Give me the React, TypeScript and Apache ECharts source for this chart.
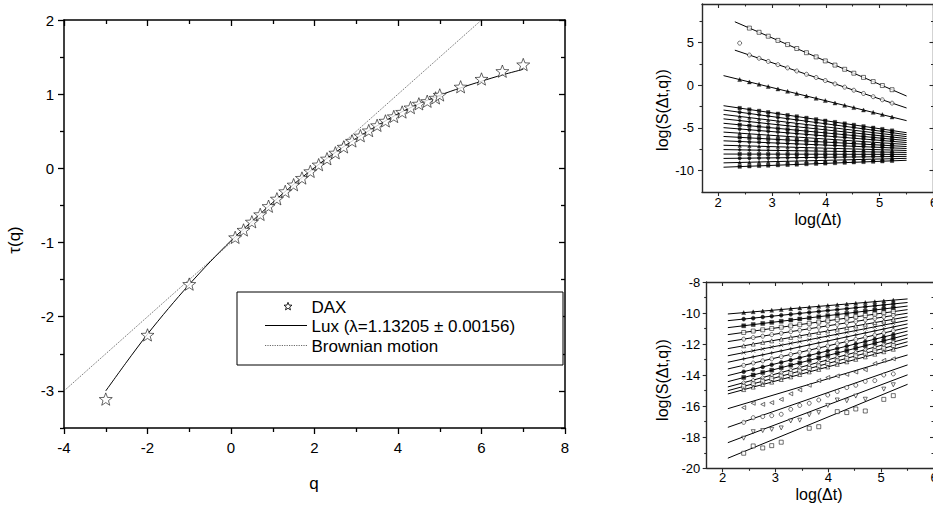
import React, { useEffect, useRef } from "react";
import * as echarts from "echarts";

// ---------------- Main panel data ----------------
const daxQ = [-3, -2, -1, 0.1, 0.3, 0.5, 0.7, 0.9, 1.1, 1.3, 1.5, 1.7, 1.9, 2.1, 2.3, 2.5, 2.7, 2.9, 3.1, 3.3, 3.5, 3.7, 3.9, 4.1, 4.3, 4.5, 4.7, 4.9, 5.0, 5.5, 6.0, 6.5, 7.0];
const daxTau = [-3.11, -2.245, -1.56, -0.93, -0.83, -0.72, -0.62, -0.51, -0.41, -0.31, -0.22, -0.13, -0.04, 0.05, 0.13, 0.21, 0.29, 0.37, 0.44, 0.51, 0.58, 0.64, 0.70, 0.76, 0.82, 0.87, 0.905, 0.95, 0.99, 1.10, 1.205, 1.31, 1.40];

const luxQ = [-3, -2.5, -2, -1.5, -1, -0.5, 0, 0.5, 1, 1.5, 2, 2.5, 3, 3.5, 4, 4.5, 5, 5.5, 6, 6.5, 7];
const luxTau = [-3.0, -2.61, -2.235, -1.89, -1.565, -1.26, -0.975, -0.715, -0.46, -0.215, 0.01, 0.215, 0.405, 0.575, 0.735, 0.87, 0.985, 1.085, 1.175, 1.26, 1.335];

const brownQ = [-4, 6];
const brownTau = [-3, 2];

const mainXMajors = [-4, -2, 0, 2, 4, 6, 8];
const mainXMinors = [-3, -1, 1, 3, 5, 7];
const mainYMajors = [-3, -2, -1, 0, 1, 2];
const mainYMinors = [-3.5, -2.5, -1.5, -0.5, 0.5, 1.5];

// ---------------- Inset data ----------------
const insetLogDt = [2.40, 2.58, 2.76, 2.93, 3.11, 3.29, 3.46, 3.64, 3.82, 3.99, 4.17, 4.35, 4.52, 4.70, 4.88, 5.05, 5.23];
const fitRightX = 5.5;
const insetXMajors = [2, 3, 4, 5, 6];
const insetXMinors = [2.5, 3.5, 4.5, 5.5];
const topYMajors = [-10, -5, 0, 5];
const topYMinors = [-7.5, -2.5, 2.5, 7.5];
const bottomYMajors = [-20, -18, -16, -14, -12, -10, -8];
const bottomYMinors = [-19, -17, -15, -13, -11, -9];

// top inset: three separated lines
const topUpperFitLeftX = [2.31, 2.31, 2.10];
const topUpperFitLeftY = [7.42, 4.10, 1.12];
const topUpperFitRightY = [-1.27, -2.67, -4.15];
const topUpperPoints = [
  [null, 6.68, 6.19, 5.73, 5.24, 4.75, 4.29, 3.80, 3.31, 2.84, 2.35, 1.86, 1.40, 0.91, 0.42, -0.04, -0.53],
  [4.92, 3.53, 3.15, 2.78, 2.40, 2.02, 1.66, 1.28, 0.90, 0.54, 0.15, -0.23, -0.59, -0.97, -1.35, -1.71, -2.10],
  [0.66, 0.38, 0.10, -0.16, -0.44, -0.72, -0.98, -1.26, -1.54, -1.80, -2.08, -2.36, -2.62, -2.90, -3.18, -3.44, -3.72],
];

// top inset: dense bundle
const topBundleFitLeftX = 2.1;
const topBundleFitLeftY = [-2.40, -2.91, -3.43, -3.94, -4.46, -4.97, -5.49, -6.00, -6.51, -7.03, -7.54, -8.06, -8.57, -9.09, -9.60];
const topBundleFitRightY = [-5.56, -5.79, -6.02, -6.25, -6.48, -6.71, -6.94, -7.18, -7.41, -7.64, -7.87, -8.10, -8.33, -8.56, -8.79];
const topBundlePoints = [
  [-2.68, -2.85, -3.01, -3.17, -3.34, -3.51, -3.66, -3.83, -4.00, -4.16, -4.32, -4.49, -4.65, -4.82, -4.98, -5.14, -5.31],
  [-3.16, -3.32, -3.47, -3.61, -3.77, -3.92, -4.06, -4.21, -4.37, -4.51, -4.66, -4.82, -4.96, -5.11, -5.27, -5.41, -5.56],
  [-3.66, -3.80, -3.93, -4.06, -4.20, -4.34, -4.47, -4.60, -4.74, -4.87, -5.01, -5.14, -5.27, -5.41, -5.55, -5.68, -5.81],
  [-4.14, -4.27, -4.39, -4.50, -4.63, -4.75, -4.86, -4.99, -5.11, -5.22, -5.35, -5.47, -5.58, -5.71, -5.83, -5.94, -6.07],
  [-4.64, -4.75, -4.85, -4.95, -5.06, -5.17, -5.27, -5.38, -5.48, -5.58, -5.69, -5.80, -5.90, -6.01, -6.11, -6.21, -6.32],
  [-5.12, -5.22, -5.31, -5.40, -5.49, -5.58, -5.67, -5.76, -5.85, -5.94, -6.03, -6.12, -6.21, -6.30, -6.39, -6.48, -6.57],
  [-5.62, -5.70, -5.77, -5.84, -5.92, -6.00, -6.07, -6.15, -6.22, -6.30, -6.37, -6.45, -6.52, -6.60, -6.68, -6.75, -6.83],
  [-6.10, -6.17, -6.23, -6.29, -6.35, -6.41, -6.47, -6.53, -6.60, -6.66, -6.72, -6.78, -6.84, -6.90, -6.97, -7.02, -7.09],
  [-6.59, -6.64, -6.69, -6.73, -6.78, -6.83, -6.87, -6.92, -6.97, -7.01, -7.06, -7.11, -7.15, -7.20, -7.25, -7.29, -7.34],
  [-7.08, -7.12, -7.15, -7.18, -7.21, -7.24, -7.27, -7.31, -7.34, -7.37, -7.40, -7.43, -7.46, -7.50, -7.53, -7.56, -7.59],
  [-7.57, -7.59, -7.60, -7.62, -7.64, -7.66, -7.67, -7.69, -7.71, -7.72, -7.74, -7.76, -7.78, -7.79, -7.81, -7.83, -7.84],
  [-8.06, -8.07, -8.07, -8.07, -8.07, -8.07, -8.08, -8.08, -8.08, -8.08, -8.08, -8.09, -8.09, -8.09, -8.09, -8.09, -8.10],
  [-8.55, -8.54, -8.52, -8.51, -8.50, -8.49, -8.47, -8.46, -8.45, -8.44, -8.42, -8.41, -8.40, -8.39, -8.37, -8.36, -8.35],
  [-9.04, -9.02, -8.99, -8.96, -8.93, -8.90, -8.88, -8.85, -8.82, -8.80, -8.77, -8.74, -8.71, -8.69, -8.66, -8.63, -8.60],
  [-9.53, -9.49, -9.44, -9.40, -9.36, -9.32, -9.28, -9.23, -9.19, -9.15, -9.11, -9.06, -9.02, -8.98, -8.94, -8.90, -8.85],
];

// bottom inset: upper bundle
const bottomFitLeftX = 2.1;
const bottomUpperFitLeftY = [-10.06, -10.49, -10.94, -11.39, -11.84, -12.29, -12.75, -13.17, -13.60, -14.03, -14.42, -14.76, -15.00, -15.21];
const bottomUpperFitRightY = [-9.09, -9.32, -9.55, -9.78, -10.01, -10.24, -10.47, -10.70, -10.93, -11.16, -11.39, -11.62, -11.85, -12.08];
const bottomUpperPoints = [
  [-9.97, -9.92, -9.87, -9.82, -9.77, -9.72, -9.67, -9.62, -9.57, -9.52, -9.47, -9.42, -9.37, -9.32, -9.27, -9.22, -9.17],
  [-10.39, -10.33, -10.26, -10.20, -10.14, -10.08, -10.02, -9.96, -9.90, -9.84, -9.78, -9.72, -9.66, -9.60, -9.53, -9.48, -9.41],
  [-10.82, -10.74, -10.67, -10.60, -10.53, -10.45, -10.38, -10.31, -10.24, -10.17, -10.09, -10.02, -9.95, -9.88, -9.80, -9.73, -9.66],
  [-11.25, -11.16, -11.08, -11.00, -10.91, -10.83, -10.75, -10.66, -10.58, -10.50, -10.41, -10.32, -10.24, -10.16, -10.07, -9.99, -9.91],
  [-11.68, -11.58, -11.49, -11.39, -11.30, -11.20, -11.11, -11.01, -10.91, -10.82, -10.73, -10.63, -10.54, -10.44, -10.34, -10.25, -10.16],
  [-12.11, -12.00, -11.89, -11.79, -11.68, -11.57, -11.47, -11.36, -11.25, -11.15, -11.04, -10.93, -10.83, -10.72, -10.61, -10.51, -10.40],
  [-12.55, -12.43, -12.31, -12.19, -12.07, -11.95, -11.84, -11.72, -11.60, -11.48, -11.36, -11.24, -11.13, -11.01, -10.89, -10.77, -10.65],
  [-12.95, -12.82, -12.69, -12.57, -12.44, -12.31, -12.18, -12.05, -11.92, -11.80, -11.67, -11.54, -11.41, -11.28, -11.15, -11.03, -10.90],
  [-13.37, -13.22, -13.08, -12.95, -12.81, -12.67, -12.53, -12.39, -12.25, -12.12, -11.97, -11.83, -11.70, -11.56, -11.42, -11.28, -11.14],
  [-13.78, -13.63, -13.47, -13.33, -13.18, -13.03, -12.88, -12.73, -12.58, -12.44, -12.28, -12.13, -11.99, -11.84, -11.68, -11.54, -11.39],
  [-14.15, -13.99, -13.83, -13.68, -13.52, -13.36, -13.21, -13.05, -12.89, -12.74, -12.58, -12.42, -12.26, -12.10, -11.94, -11.79, -11.63],
  [-14.48, -14.32, -14.15, -13.99, -13.83, -13.66, -13.50, -13.34, -13.17, -13.01, -12.85, -12.68, -12.53, -12.36, -12.19, -12.04, -11.87],
  [-14.72, -14.56, -14.39, -14.23, -14.06, -13.90, -13.74, -13.57, -13.41, -13.25, -13.08, -12.92, -12.76, -12.59, -12.43, -12.27, -12.10],
  [-14.93, -14.77, -14.60, -14.45, -14.28, -14.11, -13.96, -13.79, -13.63, -13.47, -13.30, -13.14, -12.98, -12.82, -12.65, -12.49, -12.33],
];

// bottom inset: four lower (noisier) lines
const bottomLowerFitLeftY = [-16.16, -17.36, -18.35, -19.35];
const bottomLowerFitRightY = [-12.70, -13.34, -13.98, -14.59];
const bottomLowerPoints = [
  [-16.09, -15.81, -15.88, -15.77, -15.56, -15.20, -14.95, -14.65, -14.35, -14.15, -14.05, -13.95, -13.80, -13.65, -13.25, -13.05, -12.95],
  [-17.04, -16.74, -16.67, -16.61, -16.52, -16.20, -15.95, -15.81, -15.60, -15.28, -15.05, -14.80, -14.65, -14.40, -14.35, -13.99, -13.92],
  [-18.06, -17.64, -17.57, -17.49, -17.40, -16.95, -16.90, -16.55, -16.40, -15.95, -15.60, -15.65, -15.35, -15.55, null, -14.90, -14.62],
  [-19.03, -18.56, -18.69, -18.54, -18.32, null, null, -17.42, -17.32, null, -16.35, -16.41, -16.18, -16.31, null, -15.56, -15.32],
];

// ---------------- styling helpers ----------------
const FONT = '"Liberation Sans", Arial, Helvetica, sans-serif';
const STAR_D = "M0,-10L2.47,-3.4L9.51,-3.09L3.99,1.3L5.88,8.09L0,4.2L-5.88,8.09L-3.99,1.3L-9.51,-3.09L-2.47,-3.4Z";
const CROSS = "path://M0,0L10,10M10,0L0,10";
const PLUS = "path://M5,0L5,10M0,5L10,5";

function makeAxes(dim: "x" | "y", gridIndex: number, min: number, max: number, majors: number[], minors: number[], o: any) {
  const isX = dim === "x";
  const posA = isX ? "bottom" : "left";
  const posB = isX ? "top" : "right";
  const ls = { color: o.color, width: o.lw };
  const line = { show: true, onZero: false, lineStyle: ls };
  const base = { type: "value", gridIndex, min, max, splitLine: { show: false }, minorTick: { show: false }, minorSplitLine: { show: false }, silent: true };
  const tickLs = { color: o.color, width: o.tw };
  return [
    {
      ...base, position: posA, axisLine: line,
      axisTick: { show: true, inside: false, length: o.majLen, customValues: majors, lineStyle: tickLs },
      axisLabel: { show: true, customValues: majors, margin: o.margin, fontSize: o.fontSize, fontFamily: FONT, color: "#000" },
    },
    {
      ...base, position: posB, axisLine: line,
      axisTick: { show: true, inside: true, length: o.majLen, customValues: majors, lineStyle: tickLs },
      axisLabel: { show: false },
    },
    {
      ...base, position: posA, axisLine: { show: false, onZero: false },
      axisTick: { show: true, inside: false, length: o.minLen, customValues: minors, lineStyle: tickLs },
      axisLabel: { show: false },
    },
    {
      ...base, position: posB, axisLine: { show: false, onZero: false },
      axisTick: { show: true, inside: true, length: o.minLen, customValues: minors, lineStyle: tickLs },
      axisLabel: { show: false },
    },
  ];
}

function pts(xs: number[], ys: (number | null)[]) {
  const out: number[][] = [];
  ys.forEach((y, i) => {
    if (y !== null && y !== undefined) out.push([xs[i], y]);
  });
  return out;
}

function fitLine(xAxisIndex: number, yAxisIndex: number, x0: number, y0: number, y1: number) {
  return {
    type: "line", xAxisIndex, yAxisIndex, data: [[x0, y0], [fitRightX, y1]],
    symbol: "none", showSymbol: false, silent: true,
    lineStyle: { color: "#000", width: 1 }, z: 2,
  };
}

function markers(xAxisIndex: number, yAxisIndex: number, data: number[][], symbol: string, filled: boolean, size: number, rotate = 0) {
  return {
    type: "scatter", xAxisIndex, yAxisIndex, data, symbol, symbolSize: size, symbolRotate: rotate, silent: true,
    itemStyle: filled
      ? { color: "#000", borderColor: "#000", borderWidth: 0.4 }
      : { color: symbol.startsWith("path") ? "rgba(0,0,0,0)" : "#fff", borderColor: "#000", borderWidth: 0.7 },
    z: 3,
  };
}

const topBundleSymbols = ["rect", "circle", "triangle", "diamond", "rect", "circle", "triangle", "rect", "circle", "triangle", "diamond", "rect", "circle", "triangle", "rect"];
const bottomUpperSymbols = ["triangle", "circle", "rect", "rect", "circle", "triangle", CROSS, PLUS, "circle", "circle", "rect", "diamond", "rect", "triangle"];
const bottomUpperFilled = [true, true, true, false, false, false, false, false, false, true, true, false, false, false];

export default function App() {
  const ref = useRef<HTMLDivElement>(null);

  useEffect(() => {
    if (!ref.current) return;
    try {
      echarts.graphic.registerShape("daxStar", echarts.graphic.extendPath(STAR_D, {}) as any);
    } catch (e) {}
    const chart = echarts.init(ref.current, undefined, { renderer: "svg" });

    const mainOpt = { color: "#000", lw: 1.5, tw: 1.3, majLen: 6, minLen: 4, fontSize: 15, margin: 12 };
    const mainOptY = { ...mainOpt, margin: 10 };
    const insOptX = { color: "#2a2a2a", lw: 1.4, tw: 1.1, majLen: 4, minLen: 2.5, fontSize: 13, margin: 3.5 };
    const insTopY = { ...insOptX, margin: 8 };
    const insBotX = { ...insOptX, margin: 3 };
    const insBotY = { ...insOptX, margin: 6.5 };

    const xAxis = [
      ...makeAxes("x", 0, -4, 8, mainXMajors, mainXMinors, mainOpt),
      ...makeAxes("x", 1, 1.7, 6, insetXMajors, insetXMinors, insOptX),
      ...makeAxes("x", 2, 1.7, 6, insetXMajors, insetXMinors, insBotX),
    ];
    const yAxis = [
      ...makeAxes("y", 0, -3.5, 2, mainYMajors, mainYMinors, mainOptY),
      ...makeAxes("y", 1, -12.5, 9.5, topYMajors, topYMinors, insTopY),
      ...makeAxes("y", 2, -20, -8, bottomYMajors, bottomYMinors, insBotY),
    ];

    const series: any[] = [];
    // main panel
    series.push({
      type: "line", name: "Brownian motion", xAxisIndex: 0, yAxisIndex: 0,
      data: pts(brownQ, brownTau), symbol: "none", showSymbol: false, silent: true,
      lineStyle: { color: "#444", width: 0.8, type: [1.2, 1.2] }, z: 2,
    });
    series.push({
      type: "line", name: "Lux", xAxisIndex: 0, yAxisIndex: 0,
      data: pts(luxQ, luxTau), symbol: "none", showSymbol: false, smooth: 0.3, silent: true,
      lineStyle: { color: "#000", width: 1 }, z: 2,
    });
    series.push({
      type: "scatter", name: "DAX", xAxisIndex: 0, yAxisIndex: 0,
      data: pts(daxQ, daxTau), symbol: "path://" + STAR_D, symbolSize: 13, symbolKeepAspect: true, silent: true,
      itemStyle: { color: "#fff", borderColor: "#111", borderWidth: 0.8 }, z: 3,
    });

    // top inset (axes index 4)
    topUpperPoints.forEach((row, i) => {
      series.push(fitLine(4, 4, topUpperFitLeftX[i], topUpperFitLeftY[i], topUpperFitRightY[i]));
      const sym = ["rect", "circle", "triangle"][i];
      series.push(markers(4, 4, pts(insetLogDt, row), sym, i === 2, 4));
    });
    topBundlePoints.forEach((row, i) => {
      series.push(fitLine(4, 4, topBundleFitLeftX, topBundleFitLeftY[i], topBundleFitRightY[i]));
      series.push(markers(4, 4, pts(insetLogDt, row), topBundleSymbols[i], true, 3.5));
    });

    // bottom inset (axes index 8)
    bottomUpperPoints.forEach((row, i) => {
      series.push(fitLine(8, 8, bottomFitLeftX, bottomUpperFitLeftY[i], bottomUpperFitRightY[i]));
      series.push(markers(8, 8, pts(insetLogDt, row), bottomUpperSymbols[i], bottomUpperFilled[i], 4));
    });
    const lowerSyms = ["triangle", "circle", "triangle", "rect"];
    const lowerRot = [90, 0, 180, 0];
    bottomLowerPoints.forEach((row, i) => {
      series.push(fitLine(8, 8, bottomFitLeftX, bottomLowerFitLeftY[i], bottomLowerFitRightY[i]));
      series.push(markers(8, 8, pts(insetLogDt, row), lowerSyms[i], false, 4, lowerRot[i]));
    });

    const txt = (text: string, x: number, y: number, size: number, rot = 0) => ({
      type: "text", x, y, rotation: rot, z: 100,
      style: { text, fontSize: size, fontFamily: FONT, fill: "#000", align: "center", verticalAlign: "middle" },
    });
    const ltxt = (text: string, x: number, y: number) => ({
      type: "text", x, y, z: 101,
      style: { text, fontSize: 17, fontFamily: FONT, fill: "#000", align: "left", verticalAlign: "middle" },
    });

    const graphic = [
      txt("τ(q)", 14, 240, 17, Math.PI / 2),
      txt("q", 314, 483, 17),
      txt("log(S(Δt,q))", 662, 110, 16, Math.PI / 2),
      txt("log(Δt)", 818, 219, 16),
      txt("log(S(Δt,q))", 662, 380, 16, Math.PI / 2),
      txt("log(Δt)", 819, 494, 16),
      { type: "rect", z: 99, shape: { x: 237, y: 292, width: 326, height: 73 }, style: { fill: "#fff", stroke: "#000", lineWidth: 1 } },
      { type: "daxStar", z: 101, x: 288, y: 306.5, scaleX: 0.42, scaleY: 0.42, style: { fill: "#fff", stroke: "#000", lineWidth: 2 } },
      ltxt("DAX", 311.5, 307),
      { type: "line", z: 101, shape: { x1: 265, y1: 325.5, x2: 307, y2: 325.5 }, style: { stroke: "#000", lineWidth: 1 } },
      ltxt("Lux (λ=1.13205 ± 0.00156)", 311.5, 326),
      { type: "line", z: 101, shape: { x1: 265, y1: 345.5, x2: 307, y2: 345.5 }, style: { stroke: "#444", lineWidth: 0.8, lineDash: [1.2, 1.2] } },
      ltxt("Brownian motion", 311.5, 346),
    ];

    chart.setOption({
      animation: false,
      backgroundColor: "#fff",
      grid: [
        { left: 64, top: 20, width: 501, height: 408, outerBoundsMode: "none", containLabel: false },
        { left: 702, top: 4, width: 231.5, height: 188, outerBoundsMode: "none", containLabel: false },
        { left: 706.7, top: 282, width: 227.3, height: 186.3, outerBoundsMode: "none", containLabel: false },
      ],
      xAxis,
      yAxis,
      series,
      graphic,
    } as any);

    return () => chart.dispose();
  }, []);

  return (
    <div
      ref={ref}
      style={{ position: "absolute", left: 0, top: 0, width: 933, height: 510, background: "#fff" }}
    />
  );
}
